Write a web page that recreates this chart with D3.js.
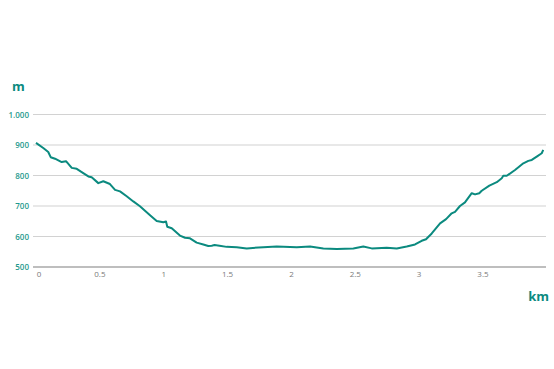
<!DOCTYPE html>
<html>
<head>
<meta charset="utf-8">
<title>Elevation profile</title>
<script src="https://cdn.jsdelivr.net/npm/d3@7"></script>
<style>
  body { margin: 0; background: #fff; }
</style>
</head>
<body>
<div id="chart"></div>
<script>
// distance (km) and elevation (m)
const distKm = [0, 0.057, 0.096, 0.115, 0.149, 0.201, 0.235, 0.280, 0.319, 0.370, 0.410, 0.436,
  0.488, 0.527, 0.579, 0.619, 0.658, 0.710, 0.762, 0.814, 0.893, 0.945, 0.997, 1.018, 1.028,
  1.063, 1.127, 1.167, 1.206, 1.258, 1.310, 1.349, 1.376, 1.398, 1.437, 1.493, 1.572, 1.650,
  1.780, 1.885, 2.042, 2.146, 2.250, 2.355, 2.485, 2.563, 2.629, 2.746, 2.825, 2.903, 2.968,
  3.020, 3.054, 3.099, 3.164, 3.211, 3.255, 3.281, 3.320, 3.359, 3.412, 3.438, 3.471, 3.490,
  3.550, 3.608, 3.647, 3.659, 3.686, 3.751, 3.816, 3.855, 3.882, 3.921, 3.960, 3.972];
const elevM = [907, 890, 877, 860, 855, 844, 847, 825, 822, 808, 797, 794,
  775, 781, 772, 753, 748, 732, 715, 699, 670, 651, 647, 649, 632,
  627, 603, 596, 594, 580, 574, 569, 570, 572, 570, 566, 565, 561,
  565, 567, 565, 567, 561, 559, 561, 567, 561, 563, 561, 567, 574,
  586, 591, 610, 643, 657, 676, 681, 700, 712, 742, 738, 742, 750,
  767, 778, 791, 799, 799, 818, 840, 848, 851, 862, 873, 884];

const xTicks = [0, 0.5, 1, 1.5, 2, 2.5, 3, 3.5];
const yTicks = [500, 600, 700, 800, 900, 1000];
const yTickLabels = ["500", "600", "700", "800", "900", "1.000"];

const W = 554, H = 369;
const teal = "#0b8a7f";

const svg = d3.select("#chart").append("svg")
    .attr("width", W)
    .attr("height", H);

const x = d3.scaleLinear().domain([0, 3.97]).range([36, 543]);
const y = d3.scaleLinear().domain([500, 1000]).range([267, 114.5]);

// horizontal grid
svg.selectAll(".grid").data(yTicks.slice(1)).enter()
    .append("line")
    .attr("x1", 33).attr("x2", 546)
    .attr("y1", d => y(d)).attr("y2", d => y(d))
    .style("stroke", "#d2d2d2")
    .style("stroke-width", 1.2);

// base line
svg.append("line")
    .attr("x1", 33).attr("x2", 546)
    .attr("y1", y(500)).attr("y2", y(500))
    .style("stroke", "#a8a8a8")
    .style("stroke-width", 1.4);

// y tick labels
svg.selectAll(".ylab").data(yTicks).enter()
    .append("text")
    .attr("x", 29)
    .attr("y", d => y(d) + 3)
    .attr("text-anchor", "end")
    .style("font-family", "Open Sans")
    .style("font-weight", "600")
    .style("font-size", "8px")
    .style("fill", "#1f9a8e")
    .text((d, i) => yTickLabels[i]);

// x tick labels
svg.selectAll(".xlab").data(xTicks).enter()
    .append("text")
    .attr("x", d => x(d) + (d === 0 ? 3 : 0))
    .attr("y", 277)
    .attr("text-anchor", "middle")
    .style("font-family", "Open Sans")
    .style("font-size", "8px")
    .style("fill", "#7a7a7a")
    .text(d => d);

// axis titles
svg.append("text")
    .attr("x", 12).attr("y", 91)
    .style("font-family", "Open Sans")
    .style("font-weight", "700")
    .style("font-size", "13px")
    .style("fill", teal)
    .text("m");

svg.append("text")
    .attr("x", 549).attr("y", 301)
    .attr("text-anchor", "end")
    .style("font-family", "Open Sans")
    .style("font-weight", "700")
    .style("font-size", "13px")
    .style("fill", teal)
    .text("km");

const line = d3.line()
    .x((d, i) => x(distKm[i]))
    .y(d => y(d));

svg.append("path")
    .datum(elevM)
    .style("fill", "none")
    .style("stroke", teal)
    .style("stroke-width", 2)
    .style("stroke-linejoin", "round")
    .attr("d", line);
</script>
</body>
</html>
